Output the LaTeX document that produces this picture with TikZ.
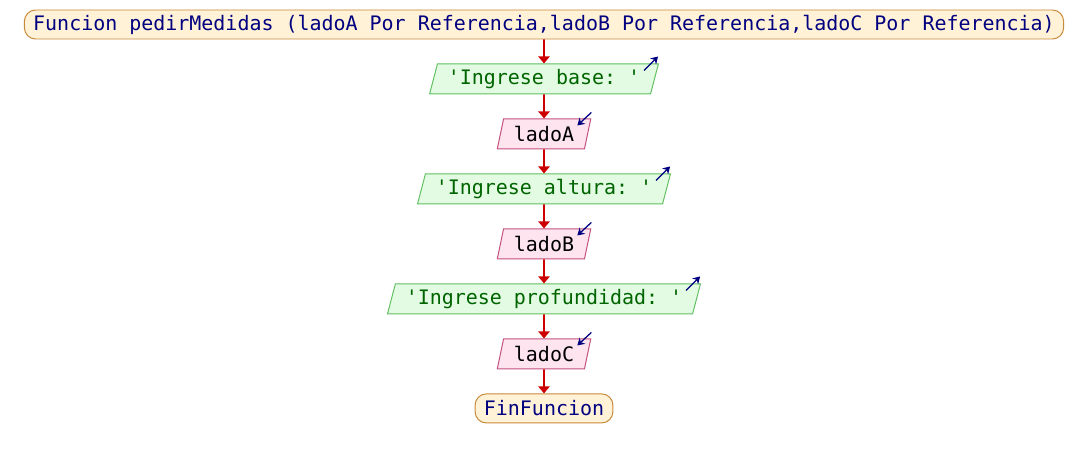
\documentclass[tikz,border=0pt]{standalone}
\usepackage{fontspec}
\setmonofont{DejaVu Sans Mono}
\usepackage{tikz}
\usetikzlibrary{shapes,arrows.meta,positioning}
\definecolor{termborde}{HTML}{C8893A}
\definecolor{termfondo}{HTML}{FFF2D6}
\definecolor{salborde}{HTML}{62C062}
\definecolor{salfondo}{HTML}{E2FBE2}
\definecolor{salletra}{HTML}{006400}
\definecolor{entborde}{HTML}{C2507E}
\definecolor{entfondo}{HTML}{FDE4EE}
\definecolor{azul}{HTML}{000080}
\definecolor{flechaRoja}{HTML}{CC0000}

\begin{document}
\begin{tikzpicture}[node distance=0.6cm,
                   every node/.style={font=\ttfamily\fontsize{14.2}{17}\selectfont},
                   term/.style={draw=termborde, fill=termfondo, line width=0.7pt,
                                rounded corners=0.28cm, minimum height=0.725cm,
                                inner xsep=0.22cm, inner ysep=0pt, text=azul},
                   caja/.style={trapezium, trapezium left angle=68, trapezium right angle=112,
                                trapezium stretches=true, line width=0.7pt,
                                minimum height=0.75cm, inner xsep=0.26cm, inner ysep=0pt},
                   salida/.style={caja, draw=salborde, fill=salfondo, text=salletra},
                   entrada/.style={caja, draw=entborde, fill=entfondo, text=black},
                   flecha/.style={draw=flechaRoja, line width=1.2pt,
                                  -{Triangle[width=8pt,length=5pt]}},
                   icono/.style={draw=azul, line width=0.9pt, -{Stealth[width=6pt,length=5pt]}}]
  \useasboundingbox (0,0) rectangle (27.2,-11.5);
  \node[term] (fn) at (13.6,-0.6125)
    {Funcion pedirMedidas (ladoA Por Referencia,ladoB Por Referencia,ladoC Por Referencia)};
  \node[salida, below=of fn] (base) {'Ingrese base: '};
  \node[entrada, below=of base] (ladoA) {ladoA};
  \node[salida, below=of ladoA] (altura) {'Ingrese altura: '};
  \node[entrada, below=of altura] (ladoB) {ladoB};
  \node[salida, below=of ladoB] (prof) {'Ingrese profundidad: '};
  \node[entrada, below=of prof] (ladoC) {ladoC};
  \node[term, below=of ladoC] (fin) {FinFuncion};

  % flujo
  \foreach \a/\b in {fn/base, base/ladoA, ladoA/altura, altura/ladoB,
                     ladoB/prof, prof/ladoC, ladoC/fin}
    \draw[flecha] (\a) -- (\b);

  % iconos de escritura y lectura
  \foreach \s in {base, altura, prof}
    \draw[icono] ([shift={(-0.375,-0.175)}]\s.top right corner)
      -- ([shift={(-0.025,0.175)}]\s.top right corner);
  \foreach \e in {ladoA, ladoB, ladoC}
    \draw[icono] ([shift={(0,0.15)}]\e.top right corner)
      -- ([shift={(-0.35,-0.175)}]\e.top right corner);
\end{tikzpicture}
\end{document}
